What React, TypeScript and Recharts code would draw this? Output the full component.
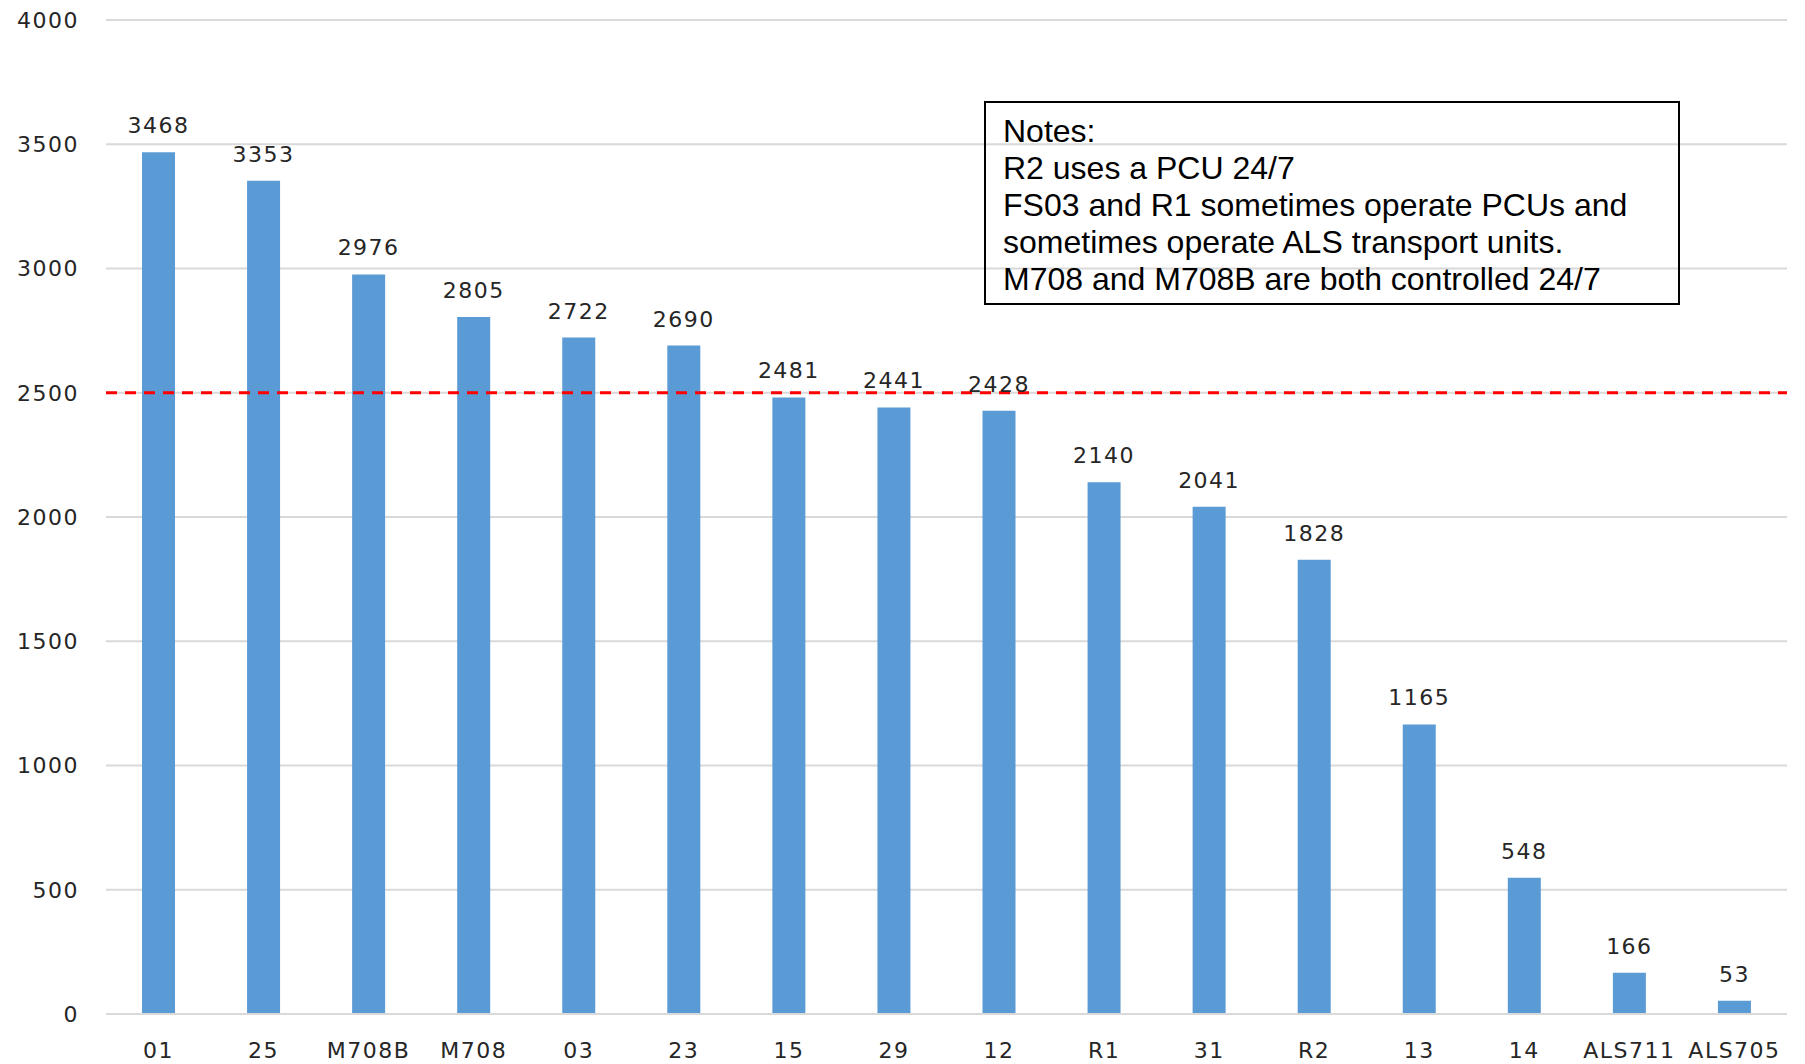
import { BarChart, Bar, XAxis, YAxis, CartesianGrid, ReferenceLine, LabelList } from 'recharts';

const units = ['01', '25', 'M708B', 'M708', '03', '23', '15', '29', '12', 'R1', '31', 'R2', '13', '14', 'ALS711', 'ALS705'];
const calls = [3468, 3353, 2976, 2805, 2722, 2690, 2481, 2441, 2428, 2140, 2041, 1828, 1165, 548, 166, 53];
const yTicks = [0, 500, 1000, 1500, 2000, 2500, 3000, 3500, 4000];
const threshold = 2500;
const notes = [
  'Notes:',
  'R2 uses a PCU 24/7',
  'FS03 and R1 sometimes operate PCUs and',
  'sometimes operate ALS transport units.',
  'M708 and M708B are both controlled 24/7',
];

const data = units.map((u, i) => ({ unit: u, calls: calls[i] }));

const tickStyle = { fontFamily: 'DejaVu Sans', fontSize: 22, fill: '#262626', letterSpacing: 1.5 };

export default function App() {
  return (
    <div style={{ position: 'absolute', left: 0, top: 0, width: 1805, height: 1064, background: '#fff' }}>
      <BarChart width={1805} height={1064} data={data} margin={{ top: 20, right: 18, bottom: 0, left: 0 }}>
        <CartesianGrid vertical={false} stroke="#d9d9d9" strokeWidth={2} />
        <XAxis
          dataKey="unit"
          interval={0}
          tickLine={false}
          axisLine={{ stroke: '#d9d9d9', strokeWidth: 2 }}
          tick={tickStyle}
          tickMargin={22}
          height={50}
        />
        <YAxis
          domain={[0, 4000]}
          ticks={yTicks}
          axisLine={false}
          tickLine={false}
          tick={tickStyle}
          tickMargin={21}
          width={106}
        />
        <Bar dataKey="calls" fill="#5b9bd5" barSize={33} isAnimationActive={false}>
          <LabelList dataKey="calls" position="top" offset={19} style={tickStyle} />
        </Bar>
        <ReferenceLine y={threshold} stroke="#ff0000" strokeWidth={3} strokeDasharray="11 8" />
      </BarChart>
      <div
        style={{
          position: 'absolute',
          left: 984,
          top: 101,
          width: 696,
          height: 204,
          boxSizing: 'border-box',
          border: '2px solid #000',
          padding: '10px 0 0 17px',
          fontFamily: 'Liberation Sans',
          fontSize: 32,
          lineHeight: '37px',
          color: '#000',
          whiteSpace: 'nowrap',
        }}
      >
        {notes.map((n) => (
          <div key={n}>{n}</div>
        ))}
      </div>
    </div>
  );
}
